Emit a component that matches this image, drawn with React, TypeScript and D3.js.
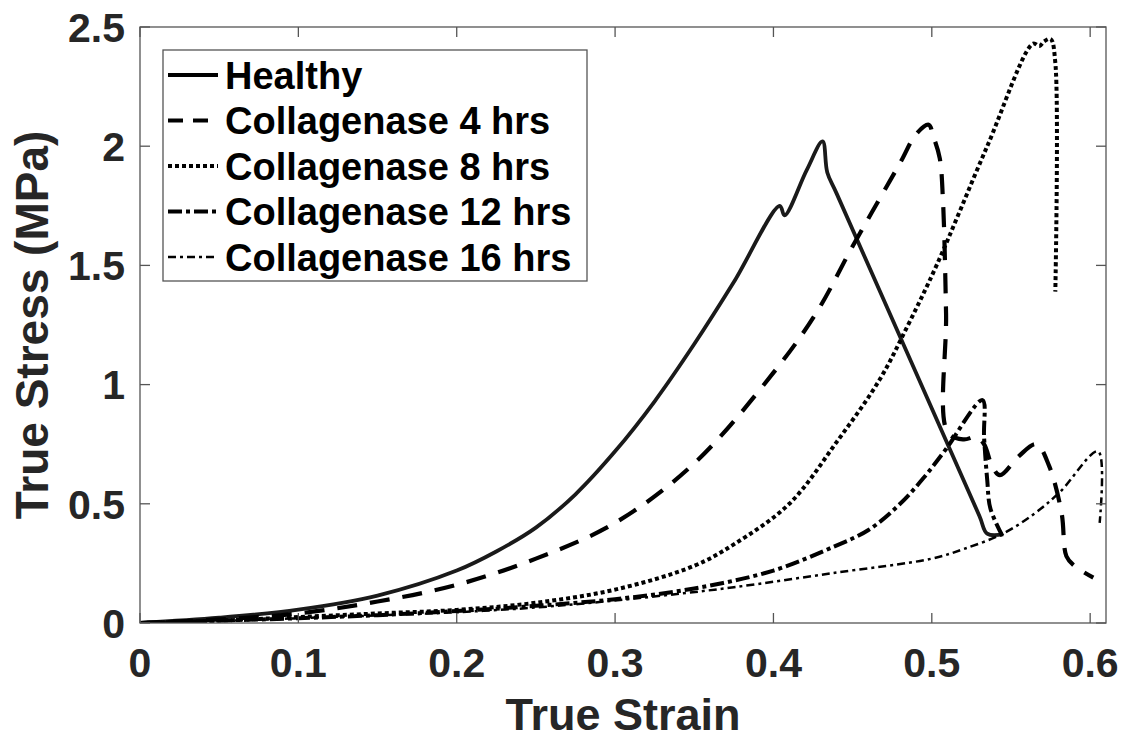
// Stress–strain curves: healthy vs collagenase-treated tissue
import React from 'react';
import * as d3 from 'd3';

const seriesNames = ['Healthy', 'Collagenase 4 hrs', 'Collagenase 8 hrs', 'Collagenase 12 hrs', 'Collagenase 16 hrs'];

const healthyStrain = [0, 0.05, 0.1, 0.15, 0.2, 0.225, 0.25, 0.275, 0.3, 0.325, 0.35, 0.375, 0.404, 0.407, 0.421, 0.431, 0.434, 0.44, 0.53, 0.535, 0.545];
const healthyStress = [0, 0.022, 0.056, 0.115, 0.22, 0.3, 0.4, 0.54, 0.72, 0.93, 1.17, 1.43, 1.75, 1.71, 1.9, 2.02, 1.89, 1.8, 0.45, 0.375, 0.372];

const h4Strain = [0, 0.05, 0.1, 0.15, 0.2, 0.25, 0.3, 0.35, 0.4, 0.427, 0.45, 0.48, 0.49, 0.498, 0.501, 0.505, 0.507, 0.509, 0.51, 0.52, 0.528, 0.533, 0.538, 0.543, 0.555, 0.566, 0.574, 0.582, 0.585, 0.59, 0.602];
const h4Stress = [0, 0.015, 0.04, 0.09, 0.16, 0.27, 0.42, 0.67, 1.05, 1.3, 1.58, 1.93, 2.05, 2.09, 2.04, 1.95, 1.78, 1.3, 0.8, 0.77, 0.78, 0.75, 0.66, 0.62, 0.7, 0.75, 0.66, 0.46, 0.28, 0.24, 0.19];

const h8Strain = [0, 0.05, 0.1, 0.15, 0.2, 0.25, 0.3, 0.35, 0.375, 0.41, 0.44, 0.467, 0.485, 0.503, 0.535, 0.564, 0.568, 0.571, 0.575, 0.578, 0.578];
const h8Stress = [0, 0.01, 0.025, 0.04, 0.055, 0.085, 0.14, 0.24, 0.33, 0.5, 0.76, 1.02, 1.25, 1.5, 2.0, 2.43, 2.42, 2.44, 2.45, 2.35, 1.39];

const h12Strain = [0, 0.05, 0.1, 0.15, 0.2, 0.25, 0.3, 0.35, 0.4, 0.438, 0.46, 0.48, 0.495, 0.509, 0.532, 0.533, 0.535, 0.537, 0.545];
const h12Stress = [0, 0.01, 0.02, 0.033, 0.05, 0.072, 0.1, 0.145, 0.22, 0.32, 0.39, 0.5, 0.61, 0.73, 0.935, 0.78, 0.6, 0.48, 0.36];

const h16Strain = [0, 0.05, 0.1, 0.15, 0.2, 0.25, 0.29, 0.33, 0.375, 0.438, 0.5, 0.52, 0.545, 0.565, 0.581, 0.605, 0.606];
const h16Stress = [0, 0.008, 0.02, 0.032, 0.045, 0.065, 0.088, 0.115, 0.15, 0.21, 0.27, 0.31, 0.375, 0.46, 0.55, 0.72, 0.42];

const xTicks = [0, 0.1, 0.2, 0.3, 0.4, 0.5, 0.6];
const yTicks = [0, 0.5, 1, 1.5, 2, 2.5];

// стили линий (MATLAB-подобные)
const lineStyles = [
  { width: 3.8, dash: '' },
  { width: 4.2, dash: '20 13' },
  { width: 4, dash: '4 3' },
  { width: 4, dash: '14 4 4 4' },
  { width: 2.5, dash: '8 4 3 4' },
];

const W = 1126;
const H = 742;
const margin = { left: 140, top: 27, right: 20, bottom: 119 };
const FONT = '"Liberation Sans", Arial, sans-serif';
const AXIS_COLOR = '#262626';

const App: React.FC = () => {
  const innerW = W - margin.left - margin.right;
  const innerH = H - margin.top - margin.bottom;

  const x = d3.scaleLinear().domain([0, 0.61]).range([0, innerW]);
  const y = d3.scaleLinear().domain([0, 2.5]).range([innerH, 0]);

  const series = [
    healthyStrain.map((s, i) => [s, healthyStress[i]]),
    h4Strain.map((s, i) => [s, h4Stress[i]]),
    h8Strain.map((s, i) => [s, h8Stress[i]]),
    h12Strain.map((s, i) => [s, h12Stress[i]]),
    h16Strain.map((s, i) => [s, h16Stress[i]]),
  ];

  const line = d3.line<number[]>()
    .x((d) => x(d[0]))
    .y((d) => y(d[1]))
    .curve(d3.curveCatmullRom.alpha(0.5));

  const legend = { x: 23, y: 23, w: 424, h: 231, row: 45.5 };

  return (
    <div style={{ position: 'absolute', left: 0, top: 0 }}>
      <svg width={W} height={H} style={{ display: 'block', background: '#fff' }}>
        <g transform={`translate(${margin.left},${margin.top})`}>
          <defs>
            <clipPath id="plot-clip">
              <rect x={0} y={-5} width={innerW} height={innerH + 5} />
            </clipPath>
          </defs>

          {/* Кривые */}
          <g clipPath="url(#plot-clip)">
            {series.map((d, i) => (
              <path
                key={seriesNames[i]}
                d={line(d) || ''}
                fill="none"
                stroke={i === 0 ? '#1a1a1a' : '#000'}
                strokeWidth={lineStyles[i].width}
                strokeDasharray={lineStyles[i].dash || undefined}
                strokeLinejoin="round"
              />
            ))}
          </g>

          {/* Рамка осей */}
          <rect x={0} y={0} width={innerW} height={innerH} fill="none" stroke="#555" strokeWidth={1.3} />

          {/* Деления X */}
          {xTicks.map((t) => (
            <g key={`x${t}`}>
              <line x1={x(t)} x2={x(t)} y1={innerH} y2={innerH - 10} stroke="#555" strokeWidth={1.3} />
              <line x1={x(t)} x2={x(t)} y1={0} y2={10} stroke="#555" strokeWidth={1.3} />
              <text
                x={x(t)}
                y={innerH + 54}
                textAnchor="middle"
                fontFamily={FONT}
                fontWeight="bold"
                fontSize={41}
                fill={AXIS_COLOR}
              >
                {t}
              </text>
            </g>
          ))}

          {/* Деления Y */}
          {yTicks.map((t) => (
            <g key={`y${t}`}>
              <line x1={0} x2={10} y1={y(t)} y2={y(t)} stroke="#555" strokeWidth={1.3} />
              <line x1={innerW} x2={innerW - 10} y1={y(t)} y2={y(t)} stroke="#555" strokeWidth={1.3} />
              <text
                x={-15}
                y={y(t)}
                dy="0.36em"
                textAnchor="end"
                fontFamily={FONT}
                fontWeight="bold"
                fontSize={41}
                fill={AXIS_COLOR}
              >
                {t}
              </text>
            </g>
          ))}

          {/* Подписи осей */}
          <text
            x={innerW / 2}
            y={innerH + 107}
            textAnchor="middle"
            fontFamily={FONT}
            fontWeight="bold"
            fontSize={45}
            fill={AXIS_COLOR}
          >
            True Strain
          </text>
          <text
            transform={`translate(${48 - margin.left},${innerH / 2}) rotate(-90)`}
            textAnchor="middle"
            fontFamily={FONT}
            fontWeight="bold"
            fontSize={46}
            fill={AXIS_COLOR}
          >
            True Stress (MPa)
          </text>

          {/* Легенда */}
          <g transform={`translate(${legend.x},${legend.y})`}>
            <rect width={legend.w} height={legend.h} fill="#fff" stroke="#555" strokeWidth={1.3} />
            {seriesNames.map((name, i) => {
              const cy = 25 + i * legend.row;
              return (
                <g key={name}>
                  <line
                    x1={5}
                    x2={55}
                    y1={cy}
                    y2={cy}
                    stroke="#000"
                    strokeWidth={lineStyles[i].width}
                    strokeDasharray={i === 1 ? '15 10' : lineStyles[i].dash || undefined}
                  />
                  <text
                    x={62}
                    y={cy}
                    dy="0.36em"
                    fontFamily={FONT}
                    fontWeight="bold"
                    fontSize={38}
                    fill="#000"
                  >
                    {name}
                  </text>
                </g>
              );
            })}
          </g>
        </g>
      </svg>
    </div>
  );
};

export default App;
